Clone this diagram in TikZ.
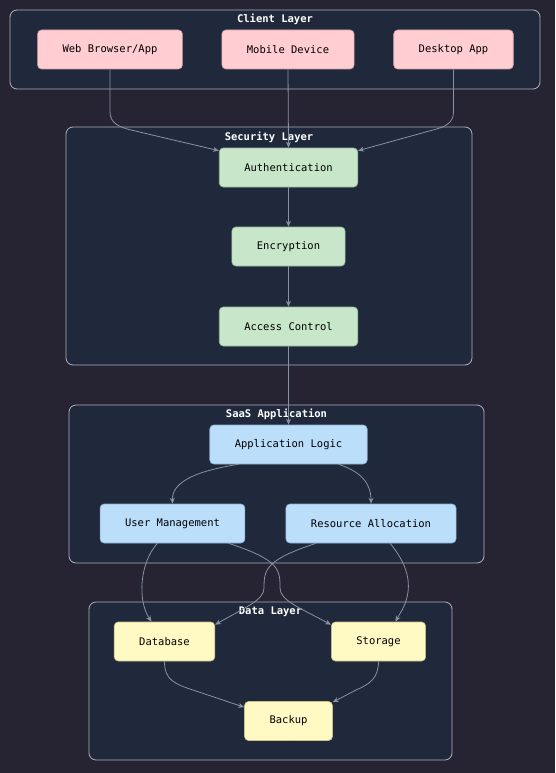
\documentclass[tikz,border=0pt]{standalone}
\usepackage{fontspec}
\setmonofont{DejaVu Sans Mono}
\usetikzlibrary{arrows.meta}

\definecolor{bgcol}{RGB}{38,36,50}
\definecolor{layerfill}{RGB}{31,41,59}
\definecolor{layerline}{RGB}{175,178,190}
\definecolor{linkcol}{RGB}{136,146,166}
\definecolor{clientfill}{RGB}{255,205,210}
\definecolor{clientline}{RGB}{205,160,166}
\definecolor{securefill}{RGB}{200,230,201}
\definecolor{secureline}{RGB}{150,185,150}
\definecolor{appfill}{RGB}{187,222,251}
\definecolor{appline}{RGB}{140,172,205}
\definecolor{datafill}{RGB}{255,249,196}
\definecolor{dataline}{RGB}{200,192,135}

\begin{document}
\begin{tikzpicture}[x=1pt,y=-1pt,
	every node/.style={font=\ttfamily\fontsize{10.5}{12}\selectfont},
	box/.style={draw, rounded corners=4pt, inner xsep=25pt, inner ysep=0pt, minimum height=39pt, text=black, line width=0.6pt},
	clientbox/.style={box, fill=clientfill, draw=clientline},
	securebox/.style={box, fill=securefill, draw=secureline},
	appbox/.style={box, fill=appfill, draw=appline},
	databox/.style={box, fill=datafill, draw=dataline},
	layer/.style={draw=layerline, fill=layerfill, rounded corners=7pt, line width=0.8pt},
	layertitle/.style={inner sep=0pt, text=white, font=\ttfamily\bfseries\fontsize{10.5}{12}\selectfont},
	link/.style={draw=linkcol, line width=0.8pt, -{Stealth[length=6pt,width=5pt]}}]
		\fill[bgcol] (0,0) rectangle (555,773);
		\useasboundingbox (0,0) rectangle (555,773);

		\draw[layer] (10,10) rectangle (540,89);
		\draw[layer] (66,127) rectangle (472,365);
		\draw[layer] (69,405) rectangle (484,563);
		\draw[layer] (89,602) rectangle (452,760);

		\node[layertitle] (clienttitle) at (275,19.5) {Client Layer};
		\node[layertitle] (securetitle) at (269,137) {Security Layer};
		\node[layertitle] (apptitle) at (276.5,414.5) {SaaS Application};
		\node[layertitle] (datatitle) at (270.5,612) {Data Layer};

		\node[clientbox] (web) at (110,49.5) {Web Browser/App};
		\node[clientbox] (mobile) at (288,49.5) {Mobile Device};
		\node[clientbox] (desk) at (453.5,49.5) {Desktop App};

		\node[securebox] (auth) at (288.5,167.5) {Authentication};
		\node[securebox] (crypt) at (288.5,246.5) {Encryption};
		\node[securebox] (access) at (288.5,326.5) {Access Control};

		\node[appbox] (logic) at (288.5,444.5) {Application Logic};
		\node[appbox] (user) at (172.5,523.5) {User Management};
		\node[appbox] (res) at (371,523.5) {Resource Allocation};

		\node[databox] (db) at (164.5,641.5) {Database};
		\node[databox] (store) at (378.5,641.5) {Storage};
		\node[databox] (backup) at (288.5,721) {Backup};

		\draw[link] (web.south) -- (110,112) .. controls (110,123) and (119,127) .. (131,130) -- ([yshift=-3pt]auth.north west);
		\draw[link] (mobile.south) -- (auth.north);
		\draw[link] (desk.south) -- (453.5,112) .. controls (453.5,123) and (445,127) .. (433,130) -- ([yshift=-3pt]auth.north east);
		\draw[link] (auth) -- (crypt);
		\draw[link] (crypt) -- (access);
		\draw[link] (access) -- (logic);

		\draw[link] ([xshift=-50pt]logic.south) .. controls (190,472) and (172,484) .. (user.north);
		\draw[link] ([xshift=50pt]logic.south) .. controls (362,472) and (371,484) .. (res.north);

		\draw[link] ([xshift=-15pt]user.south) .. controls (140,562) and (137,600) .. ([xshift=-13pt]db.north);
		\draw[link] ([xshift=56pt]user.south) .. controls (280,560) and (280,570) .. (280,588) .. controls (280,600) and (298,607) .. ([yshift=-3pt]store.north west);
		\draw[link] ([xshift=-55pt]res.south) .. controls (265,560) and (264,570) .. (264,588) .. controls (264,600) and (246,607) .. ([yshift=-3pt]db.north east);
		\draw[link] ([xshift=19pt]res.south) .. controls (404,560) and (410,576) .. (408,592) .. controls (406,606) and (400,613) .. ([xshift=17pt]store.north);

		\draw[link] (db.south) .. controls (164.5,680) and (174,684) .. (196,691) -- ([yshift=-6pt]backup.north west);
		\draw[link] (store.south) .. controls (378.5,678) and (370,684) .. (356,690) -- ([yshift=-1pt]backup.north east);
\end{tikzpicture}
\end{document}
